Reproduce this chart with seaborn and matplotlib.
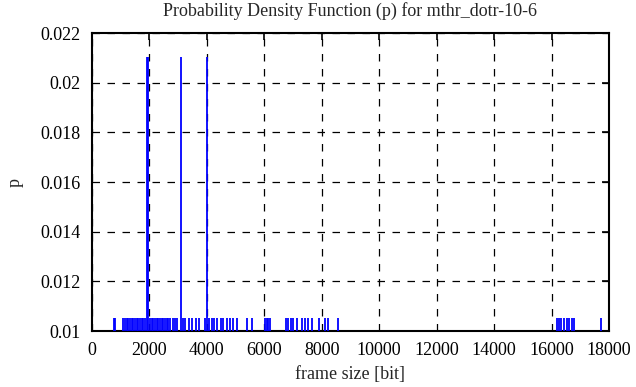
## Libraries
import matplotlib
matplotlib.use("Agg")
import matplotlib.pyplot as plt
import seaborn as sns

## Data (frame sizes in bit and their probability)
small_sizes = [766, 812, 1091, 1149, 1207, 1265, 1323, 1381, 1439, 1497, 1555, 1613,
               1671, 1729, 1787, 1845, 2019, 2077, 2135, 2193, 2252, 2310, 2368, 2426,
               2484, 2542, 2600, 2658, 2716, 2809, 2890, 2971, 3158, 3238, 3377, 3470,
               3621, 3737, 3935, 4085, 4166, 4248, 4341, 4480, 4573, 4689, 4805, 4921,
               5037, 5386, 5560, 6024, 6082, 6140, 6198, 6755, 6840, 6925, 7010, 7149,
               7323, 7416, 7533, 7650, 7916, 8113, 8229, 8577, 16202, 16260, 16318,
               16446, 16528, 16620, 16702, 16783, 17712]
tall_sizes = [1903, 1961, 3088, 3993]
p_small = 1 / 95
p_tall = 2 / 95

x_ticks = list(range(0, 18001, 2000))
y_ticks = [0.01, 0.012, 0.014, 0.016, 0.018, 0.02, 0.022]
y_labels = ['0.01', '0.012', '0.014', '0.016', '0.018', '0.02', '0.022']

## Style
sns.set_style("white")
plt.rcParams['font.family'] = ['Liberation Serif', 'DejaVu Serif']

fig, ax = plt.subplots(figsize=(6.36, 3.87), dpi=100)
fig.subplots_adjust(left=0.1447, right=0.9575, top=0.9147, bottom=0.1447)

## Impulses
sizes = small_sizes + tall_sizes
probs = [p_small] * len(small_sizes) + [p_tall] * len(tall_sizes)
ax.vlines(sizes, 0, probs, color='#0000ff', linewidth=1.3, zorder=3)

ax.set_xlim(0, 18000)
ax.set_ylim(0.01, 0.022)
ax.set_xticks(x_ticks)
ax.set_yticks(y_ticks)
ax.set_yticklabels(y_labels)

## gnuplot-like frame, ticks and dashed grid
ax.grid(True, color='black', linestyle=(0, (6, 6)), linewidth=0.9)
ax.set_axisbelow(True)
for s in ax.spines.values():
    s.set_color('black')
    s.set_linewidth(1.5)
ax.tick_params(direction='in', length=5, width=1.2, top=True, right=True,
               labelsize=13, colors='black')
ax.tick_params(axis='x', pad=8)
ax.tick_params(axis='y', pad=8)

ax.set_title('Probability Density Function (p) for mthr_dotr-10-6', fontsize=13, pad=12)
ax.set_xlabel('frame size [bit]', fontsize=13, labelpad=5)
ax.set_ylabel('p', fontsize=13, labelpad=12)

plt.savefig('out.png', dpi=100)
